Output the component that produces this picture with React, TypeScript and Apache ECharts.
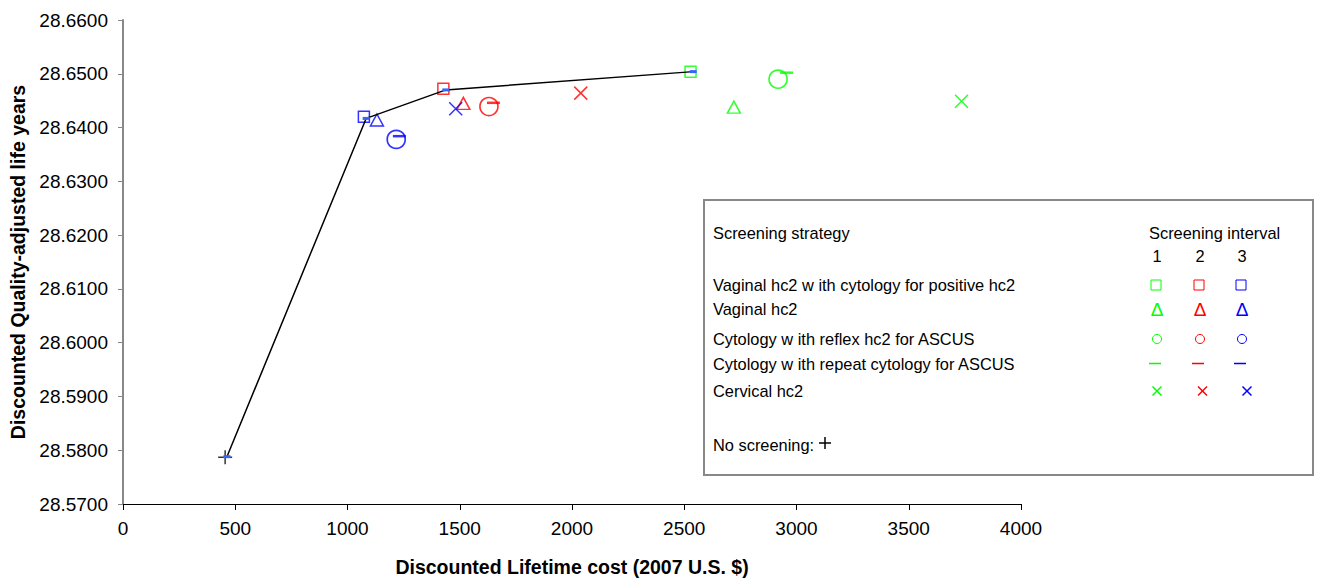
import React, { useEffect, useRef } from "react";
import * as echarts from "echarts";

// ---- Data ----
const intervalLabels = ["1", "2", "3"];
const intervalColors = ["#00FF00", "#FF0000", "#0000FF"];

const strategyNames = [
  "Vaginal hc2 w ith cytology for positive hc2",
  "Vaginal hc2",
  "Cytology w ith reflex hc2 for ASCUS",
  "Cytology w ith repeat cytology for ASCUS",
  "Cervical hc2",
];

// cost / QALY per screening interval 1, 2, 3
const vaginalCytoCost = [2528, 1427, 1073];
const vaginalCytoQaly = [28.6504, 28.6472, 28.642];
const vaginalCost = [2721, 1516, 1131];
const vaginalQaly = [28.6438, 28.6445, 28.6414];
const reflexCost = [2918, 1630, 1217];
const reflexQaly = [28.649, 28.6439, 28.6378];
const repeatCost = [2956, 1650, 1231];
const repeatQaly = [28.6502, 28.6446, 28.6384];
const cervicalCost = [3735, 2039, 1482];
const cervicalQaly = [28.6449, 28.6464, 28.6435];

const noScreeningCost = [455];
const noScreeningQaly = [28.5787];

const frontierCost = [463, 1083, 1438, 2540];
const frontierQaly = [28.5788, 28.6417, 28.647, 28.6504];

const xTicksMin = 0;
const xTicksMax = 4000;
const xTickStep = 500;
const yTicksMin = 28.57;
const yTicksMax = 28.66;
const yTickStep = 0.01;

const FONT = '"Liberation Sans", Arial, Helvetica, sans-serif';

const CROSS = "path://M0,0L10,10M10,0L0,10";
const PLUS = "path://M5,0L5,10M0,5L10,5";

function pairs(xs: number[], ys: number[]) {
  return xs.map((x, i) => [x, ys[i]]);
}

function hollowSeries(
  name: string,
  xs: number[],
  ys: number[],
  symbol: string,
  size: number | number[],
  bw: number
) {
  return {
    name,
    type: "scatter",
    symbol,
    symbolSize: size,
    z: 2,
    data: pairs(xs, ys).map((v, i) => ({
      value: v,
      itemStyle: {
        color: "transparent",
        borderColor: intervalColors[i],
        borderWidth: bw,
      },
    })),
  };
}

export default function App() {
  const ref = useRef<HTMLDivElement>(null);

  useEffect(() => {
    if (!ref.current) return;
    const chart = echarts.init(ref.current, undefined, { renderer: "svg" });

    const colX = [1156, 1199, 1241];
    const legendEls: any[] = [];
    legendEls.push({
      type: "rect",
      shape: { x: 704, y: 200, width: 609, height: 275 },
      style: { fill: "#fff", stroke: "#888", lineWidth: 2 },
      z: 10,
    });
    const txt = (text: string, x: number, y: number, align = "left", size = 16.4, fill = "#000") => ({
      type: "text",
      x,
      y,
      z: 11,
      style: {
        text,
        fontSize: size,
        fontFamily: FONT,
        fill,
        align,
        verticalAlign: "middle",
      },
    });
    legendEls.push(txt("Screening strategy", 713, 233));
    legendEls.push(txt("Screening interval", 1149, 233));
    intervalLabels.forEach((l, i) => legendEls.push(txt(l, colX[i] + 1, 256, "center")));
    const rowY = [285, 309, 339, 363.5, 391];
    strategyNames.forEach((n, r) => legendEls.push(txt(n, 713, rowY[r])));
    intervalColors.forEach((c, i) => {
      const cx = colX[i];
      legendEls.push({
        type: "rect",
        z: 11,
        shape: { x: cx - 5, y: rowY[0] - 5, width: 10, height: 10 },
        style: { fill: "none", stroke: c, lineWidth: 1 },
      });
      legendEls.push(txt("Δ", cx + 1, rowY[1], "center", 19, c));
      legendEls.push({
        type: "circle",
        z: 11,
        shape: { cx: cx + 1, cy: rowY[2], r: 4.5 },
        style: { fill: "none", stroke: c, lineWidth: 1 },
      });
      legendEls.push({
        type: "line",
        z: 11,
        shape: { x1: cx - 7, y1: rowY[3], x2: cx + 5, y2: rowY[3] },
        style: { stroke: c, lineWidth: 1.5 },
      });
      const xx = cx + 1 + i * 2.5;
      legendEls.push({
        type: "line",
        z: 11,
        shape: { x1: xx - 4.5, y1: rowY[4] - 4.5, x2: xx + 4.5, y2: rowY[4] + 4.5 },
        style: { stroke: c, lineWidth: 1.5 },
      });
      legendEls.push({
        type: "line",
        z: 11,
        shape: { x1: xx + 4.5, y1: rowY[4] - 4.5, x2: xx - 4.5, y2: rowY[4] + 4.5 },
        style: { stroke: c, lineWidth: 1.5 },
      });
    });
    legendEls.push(txt("No screening:", 713, 445));
    legendEls.push({
      type: "line",
      z: 11,
      shape: { x1: 819, y1: 443, x2: 831, y2: 443 },
      style: { stroke: "#000", lineWidth: 1.5 },
    });
    legendEls.push({
      type: "line",
      z: 11,
      shape: { x1: 825, y1: 437, x2: 825, y2: 449 },
      style: { stroke: "#000", lineWidth: 1.5 },
    });

    const option: any = {
      animation: false,
      backgroundColor: "#fff",
      grid: { left: 123, right: 299, top: 20, bottom: 79, outerBoundsMode: "none" },
      xAxis: {
        type: "value",
        min: xTicksMin,
        max: xTicksMax,
        interval: xTickStep,
        name: "Discounted Lifetime cost (2007 U.S. $)",
        nameLocation: "middle",
        nameGap: 53,
        nameTextStyle: { fontFamily: FONT, fontSize: 19.5, fontWeight: "bold", color: "#000" },
        axisLine: { show: true, onZero: false, lineStyle: { color: "#000", width: 1 } },
        axisTick: { show: true, length: 6, lineStyle: { color: "#000" } },
        axisLabel: {
          fontFamily: FONT,
          fontSize: 19,
          color: "#000",
          margin: 15,
          formatter: (v: number) => String(v),
        },
        splitLine: { show: false },
      },
      yAxis: {
        type: "value",
        min: yTicksMin,
        max: yTicksMax,
        interval: yTickStep,
        name: "Discounted Quality-adjusted life years",
        nameLocation: "middle",
        nameGap: 95,
        nameTextStyle: { fontFamily: FONT, fontSize: 19.5, fontWeight: "bold", color: "#000" },
        axisLine: { show: true, lineStyle: { color: "#888", width: 2 } },
        axisTick: { show: true, length: 5, lineStyle: { color: "#888", width: 1 } },
        axisLabel: {
          fontFamily: FONT,
          fontSize: 19,
          color: "#000",
          margin: 15,
          formatter: (v: number) => v.toFixed(4),
        },
        splitLine: { show: false },
      },
      series: [
        hollowSeries(strategyNames[0], vaginalCytoCost, vaginalCytoQaly, "rect", 11, 1.5),
        hollowSeries(strategyNames[1], vaginalCost, vaginalQaly, "triangle", [13, 12], 1.5),
        hollowSeries(strategyNames[2], reflexCost, reflexQaly, "circle", 18, 1.7),
        {
          name: strategyNames[3],
          type: "scatter",
          symbol: "rect",
          symbolSize: [13, 2.5],
          z: 3,
          data: pairs(repeatCost, repeatQaly).map((v, i) => ({
            value: v,
            itemStyle: { color: intervalColors[i] },
          })),
        },
        hollowSeries(strategyNames[4], cervicalCost, cervicalQaly, CROSS, 13, 1.5),
        {
          name: "No screening",
          type: "scatter",
          symbol: PLUS,
          symbolSize: 14,
          z: 2,
          data: pairs(noScreeningCost, noScreeningQaly),
          itemStyle: { color: "transparent", borderColor: "#000", borderWidth: 1.5 },
        },
        {
          name: "Efficient frontier",
          type: "line",
          z: 4,
          data: pairs(frontierCost, frontierQaly),
          lineStyle: { color: "#000", width: 1.5 },
          symbol: "rect",
          symbolSize: [7, 3],
          itemStyle: { color: "#3366FF" },
        },
      ],
      graphic: legendEls,
    };

    chart.setOption(option);
    return () => chart.dispose();
  }, []);

  return (
    <div
      ref={ref}
      style={{ position: "fixed", left: 0, top: 0, width: 1320, height: 583, background: "#fff" }}
    />
  );
}
